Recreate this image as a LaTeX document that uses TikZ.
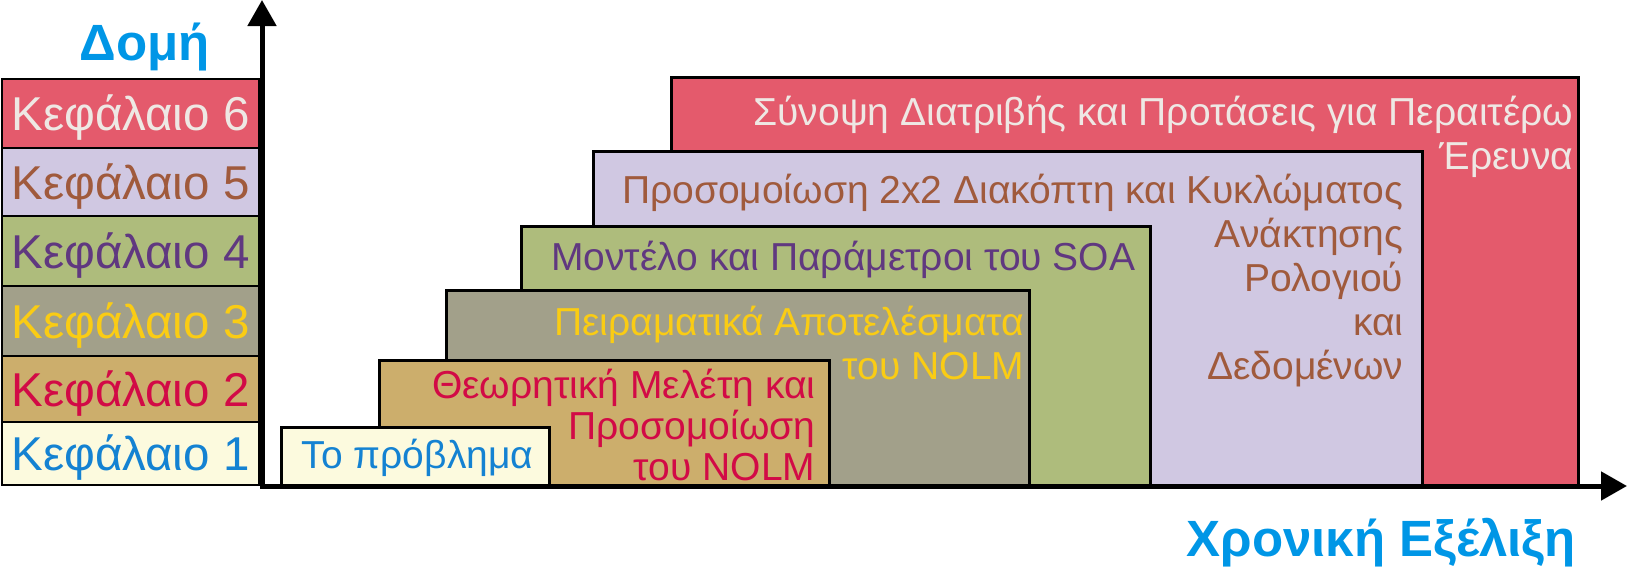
\documentclass[tikz,border=0pt]{standalone}
\usepackage{fontspec}
\setmainfont{Liberation Sans}
\usetikzlibrary{arrows.meta,calc}

\definecolor{f1}{RGB}{252,250,222}
\definecolor{f2}{RGB}{204,174,108}
\definecolor{f3}{RGB}{162,160,138}
\definecolor{f4}{RGB}{174,188,124}
\definecolor{f5}{RGB}{208,200,226}
\definecolor{f6}{RGB}{228,90,108}
\definecolor{t1}{RGB}{20,130,210}
\definecolor{t2}{RGB}{210,10,70}
\definecolor{t3}{RGB}{250,204,20}
\definecolor{t4}{RGB}{96,56,128}
\definecolor{t5}{RGB}{160,90,60}
\definecolor{t6}{RGB}{238,232,228}
\definecolor{axisblue}{RGB}{0,150,230}

\begin{document}
\begin{tikzpicture}
  [x=1pt,y=-1pt,
   chap/.style={draw,line width=2.5pt,minimum width=257pt,inner sep=0pt,
     text height=34pt,text depth=0pt,font=\fontsize{47.5}{50}\selectfont},
   bar/.style={draw,line width=2.5pt,anchor=north west,inner sep=0pt},
   bartext/.style={anchor=base east,align=right,inner sep=0pt,
     font=\fontsize{39}{44}\selectfont},
   axisline/.style={line width=5pt,
     {Triangle[length=26pt,width=28pt]}-{Triangle[length=26pt,width=28pt]}},
   axistitle/.style={text=axisblue,inner sep=0pt,
     font=\fontsize{51}{55}\selectfont\bfseries}]

  \useasboundingbox (0,0) rectangle (1628,566);

  % chapters on the left
  \foreach \n/\ya/\yb in {6/79/148,5/148/216,4/216/286,3/286/356,2/356/422,1/422/485}
    \node[chap,fill=f\n,text=t\n,minimum height={(\yb-\ya)*1pt}]
      (k\n) at (130.5,{(\ya+\yb)/2}) {Κεφάλαιο \n};

  % the bars, back to front
  \node[bar,fill=f6,minimum width=907pt,minimum height=408pt] (b6) at (670,76) {};
  \node[bar,fill=f5,minimum width=829pt,minimum height=334pt] (b5) at (592,150) {};
  \node[bar,fill=f4,minimum width=629pt,minimum height=259pt] (b4) at (520,225) {};
  \node[bar,fill=f3,minimum width=583pt,minimum height=195pt] (b3) at (445,289) {};
  \node[bar,fill=f2,minimum width=450pt,minimum height=125pt] (b2) at (378,359) {};
  \node[bar,fill=f1,minimum width=268pt,minimum height=58pt] (b1) at (280,426) {};

  % texts, placed by the baseline of their last line
  \node[bartext,text=t6] (s6) at ($(b6.north east)+(-6,93)$)
    {Σύνοψη Διατριβής και Προτάσεις για Περαιτέρω\\Έρευνα};
  \node[bartext,text=t5] (s5) at ($(b5.north east)+(-20,229)$)
    {Προσομοίωση 2x2 Διακόπτη και Κυκλώματος\\Ανάκτησης\\Ρολογιού\\και\\Δεδομένων};
  \node[bartext,text=t4] (s4) at ($(b4.north east)+(-16,45)$)
    {Μοντέλο και Παράμετροι του SOA};
  \node[bartext,text=t3] (s3) at ($(b3.north east)+(-6,90)$)
    {Πειραματικά Αποτελέσματα\\του NOLM};
  \node[bartext,text=t2,font=\fontsize{39}{41}\selectfont] (s2) at ($(b2.north east)+(-15,121)$)
    {Θεωρητική Μελέτη και\\Προσομοίωση\\του NOLM};
  \node[bartext,text=t1] (s1) at ($(b1.north east)+(-17,42)$) {Το πρόβλημα};

  % axes
  \coordinate (ytip) at (262,0);
  \coordinate (xtip) at (1627,486);
  \draw[axisline] (ytip) |- (xtip);

  \node[axistitle,anchor=base] (dom) at (145,60) {Δομή};
  \node[axistitle,anchor=base east] (xron) at (1576,556) {Χρονική Εξέλιξη};
\end{tikzpicture}
\end{document}
